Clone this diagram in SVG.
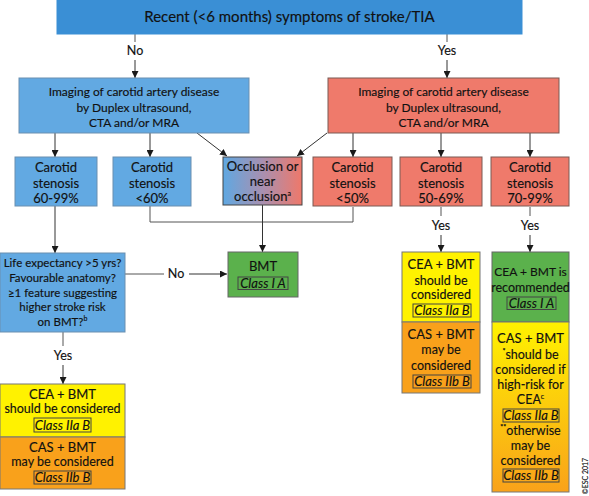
<svg xmlns="http://www.w3.org/2000/svg" width="589" height="496" viewBox="0 0 589 496">
<defs>
<marker id="arr" viewBox="0 0 10 10" refX="10" refY="5" markerWidth="7" markerHeight="7" markerUnits="userSpaceOnUse" orient="auto">
<path d="M0,0 L10,5 L0,10 z" fill="#1a1a1a"/>
</marker>
<linearGradient id="occ" x1="0" y1="0" x2="1" y2="0">
<stop offset="0" stop-color="#5fa8e2"/>
<stop offset="0.5" stop-color="#a890b0"/>
<stop offset="1" stop-color="#ef786a"/>
</linearGradient>
<linearGradient id="yo" x1="0" y1="0" x2="0" y2="1">
<stop offset="0" stop-color="#fff200"/>
<stop offset="1" stop-color="#f9a21a"/>
</linearGradient>
<style>
text{font-family:Lato,"Liberation Sans",sans-serif;fill:#111;text-anchor:middle;stroke:#111;stroke-width:0.15}
.t{font-size:15px}
.b{font-size:13px}
.s{font-size:12.5px}
.i{font-size:12px}
.l{font-size:11.5px}
.c{font-size:13px;font-style:italic}
.lbl{font-size:12.5px}
.top{fill:#3a8fd5;stroke:#3a8fd5}
.blue{fill:#62a9e2;stroke:#6a8fb0;stroke-width:1}
.red{fill:#ef7a6b;stroke:#7a5a55;stroke-width:1}
.yel{fill:#fff200;stroke:#777;stroke-width:1}
.org{fill:#f9a11b;stroke:#777;stroke-width:1}
.grn{fill:#5bb14c;stroke:#666;stroke-width:1}
.cls{fill:none;stroke:#444;stroke-width:1}
.ln{fill:none;stroke:#555;stroke-width:1}
.ar{fill:none;stroke:#333;stroke-width:1;marker-end:url(#arr)}
</style>
</defs>

<g id="connectors">
<line class="ln" x1="135" y1="34" x2="135" y2="42"/>
<line class="ar" x1="135" y1="60" x2="135" y2="78"/>
<line class="ln" x1="447" y1="34" x2="447" y2="42"/>
<line class="ar" x1="447" y1="60" x2="447" y2="78"/>
<line class="ar" x1="55" y1="133" x2="55" y2="157"/>
<line class="ar" x1="150" y1="133" x2="150" y2="157"/>
<line class="ar" x1="197" y1="133" x2="227" y2="156"/>
<line class="ar" x1="327" y1="133" x2="297" y2="156"/>
<line class="ar" x1="353" y1="133" x2="353" y2="157"/>
<line class="ar" x1="441" y1="133" x2="441" y2="157"/>
<line class="ar" x1="530" y1="133" x2="530" y2="157"/>
<polyline class="ln" points="150,206 150,222 353,222 353,207"/>
<line class="ar" x1="262.5" y1="205" x2="262.5" y2="252"/>
<line class="ar" x1="55" y1="206" x2="55" y2="253"/>
<line class="ln" x1="125" y1="274" x2="164" y2="274"/>
<line class="ar" x1="189" y1="274" x2="227" y2="274"/>
<line class="ln" x1="63" y1="332" x2="63" y2="346"/>
<line class="ar" x1="63" y1="365" x2="63" y2="384"/>
<line class="ln" x1="441" y1="207" x2="441" y2="216"/>
<line class="ar" x1="441" y1="235" x2="441" y2="252"/>
<line class="ln" x1="530" y1="207" x2="530" y2="216"/>
<line class="ar" x1="530" y1="235" x2="530" y2="252"/>
<text class="lbl" x="135" y="55">No</text>
<text class="lbl" x="447" y="55">Yes</text>
<text class="lbl" x="176" y="278">No</text>
<text class="lbl" x="63" y="360">Yes</text>
<text class="lbl" x="441" y="230">Yes</text>
<text class="lbl" x="530" y="230">Yes</text>
</g>

<g id="top">
<rect class="top" x="57" y="-1" width="465" height="35"/>
<text class="t" x="289.5" y="22">Recent (&lt;6 months) symptoms of stroke/TIA</text>
</g>

<g id="imaging-no">
<rect class="blue" x="19" y="78" width="230" height="55"/>
<text class="i" x="134" y="96">Imaging of carotid artery disease</text>
<text class="i" x="134" y="112">by Duplex ultrasound,</text>
<text class="i" x="134" y="127">CTA and/or MRA</text>
</g>

<g id="imaging-yes">
<rect class="red" x="328" y="78" width="231" height="55"/>
<text class="i" x="443.5" y="96">Imaging of carotid artery disease</text>
<text class="i" x="443.5" y="112">by Duplex ultrasound,</text>
<text class="i" x="443.5" y="127">CTA and/or MRA</text>
</g>

<g id="sten-60-99">
<rect class="blue" x="15" y="157" width="82" height="49"/>
<text class="b" x="56" y="172">Carotid</text>
<text class="b" x="56" y="188">stenosis</text>
<text class="b" x="56" y="203">60-99%</text>
</g>

<g id="sten-lt60">
<rect class="blue" x="113" y="157" width="78" height="49"/>
<text class="b" x="152" y="172">Carotid</text>
<text class="b" x="152" y="188">stenosis</text>
<text class="b" x="152" y="203">&lt;60%</text>
</g>

<g id="occlusion">
<rect x="223" y="157" width="79" height="48" fill="url(#occ)" stroke="#444" stroke-width="1"/>
<text class="b" x="262.5" y="171">Occlusion or</text>
<text class="b" x="262.5" y="186">near</text>
<text class="b" x="262.5" y="201">occlusion<tspan font-size="7" dy="-5">a</tspan></text>
</g>

<g id="sten-lt50">
<rect class="red" x="313" y="157" width="79" height="49"/>
<text class="b" x="352.5" y="172">Carotid</text>
<text class="b" x="352.5" y="188">stenosis</text>
<text class="b" x="352.5" y="203">&lt;50%</text>
</g>

<g id="sten-50-69">
<rect class="red" x="400" y="157" width="82" height="49"/>
<text class="b" x="441" y="172">Carotid</text>
<text class="b" x="441" y="188">stenosis</text>
<text class="b" x="441" y="203">50-69%</text>
</g>

<g id="sten-70-99">
<rect class="red" x="491" y="157" width="78" height="49"/>
<text class="b" x="530" y="172">Carotid</text>
<text class="b" x="530" y="188">stenosis</text>
<text class="b" x="530" y="203">70-99%</text>
</g>

<g id="life">
<rect class="blue" x="0" y="253" width="125" height="79"/>
<text class="l" x="62.5" y="267">Life expectancy &gt;5 yrs?</text>
<text class="l" x="62.5" y="282">Favourable anatomy?</text>
<text class="l" x="62.5" y="297">≥1 feature suggesting</text>
<text class="l" x="62.5" y="311">higher stroke risk</text>
<text class="l" x="62.5" y="326">on BMT?<tspan font-size="7" dy="-5">b</tspan></text>
</g>

<g id="bmt">
<rect class="grn" x="228" y="252" width="70" height="45"/>
<text class="b" x="263" y="271">BMT</text>
<rect class="cls" x="238" y="277" width="50" height="12.5"/>
<text class="c" x="263" y="288">Class I A</text>
</g>

<g id="left-result">
<rect class="yel" x="0" y="384" width="125" height="53"/>
<text class="b" x="62.5" y="399">CEA + BMT</text>
<text class="s" x="62.5" y="413">should be considered</text>
<rect class="cls" x="34" y="418" width="57" height="14"/>
<text class="c" x="62.5" y="429.5">Class IIa B</text>
<rect class="org" x="0" y="437" width="125" height="52"/>
<text class="b" x="62.5" y="452">CAS + BMT</text>
<text class="s" x="62.5" y="466">may be considered</text>
<rect class="cls" x="34" y="471" width="57" height="13"/>
<text class="c" x="62.5" y="482">Class IIb B</text>
</g>

<g id="mid-result">
<rect class="yel" x="402" y="252" width="78" height="70"/>
<text class="b" x="441" y="269">CEA + BMT</text>
<text class="s" x="441" y="285">should be</text>
<text class="s" x="441" y="299">considered</text>
<rect class="cls" x="413" y="304" width="58" height="13"/>
<text class="c" x="442" y="315">Class IIa B</text>
<rect class="org" x="402" y="322" width="78" height="71"/>
<text class="b" x="441" y="339">CAS + BMT</text>
<text class="s" x="441" y="354">may be</text>
<text class="s" x="441" y="370">considered</text>
<rect class="cls" x="413" y="375" width="58" height="13"/>
<text class="c" x="442" y="386">Class IIb B</text>
</g>

<g id="right-result">
<rect class="grn" x="492" y="252" width="77" height="70"/>
<text class="i" x="530.5" y="276">CEA + BMT is</text>
<text class="s" x="530.5" y="292">recommended</text>
<rect class="cls" x="507" y="297" width="49" height="12.5"/>
<text class="c" x="531.5" y="308">Class I A</text>
<rect x="492" y="322" width="77" height="170" fill="url(#yo)" stroke="#777" stroke-width="1"/>
<text class="b" x="530.5" y="343">CAS + BMT</text>
<text class="s" x="530.5" y="359"><tspan font-size="7" dy="-5">*</tspan><tspan dy="5">should be</tspan></text>
<text class="s" x="530.5" y="374">considered if</text>
<text class="s" x="530.5" y="389">high-risk for</text>
<text class="s" x="530.5" y="404">CEA<tspan font-size="7" dy="-5">c</tspan></text>
<rect class="cls" x="503" y="409" width="56" height="13"/>
<text class="c" x="531" y="420">Class IIa B</text>
<text class="s" x="530.5" y="435"><tspan font-size="7" dy="-5">**</tspan><tspan dy="5">otherwise</tspan></text>
<text class="s" x="530.5" y="450">may be</text>
<text class="s" x="530.5" y="465">considered</text>
<rect class="cls" x="503" y="469" width="56" height="13"/>
<text class="c" x="531" y="480">Class IIb B</text>
</g>

<g id="copyright">
<text x="0" y="0" font-size="7" stroke-width="0" transform="translate(588,476) rotate(-90)">©ESC 2017</text>
</g>
</svg>
